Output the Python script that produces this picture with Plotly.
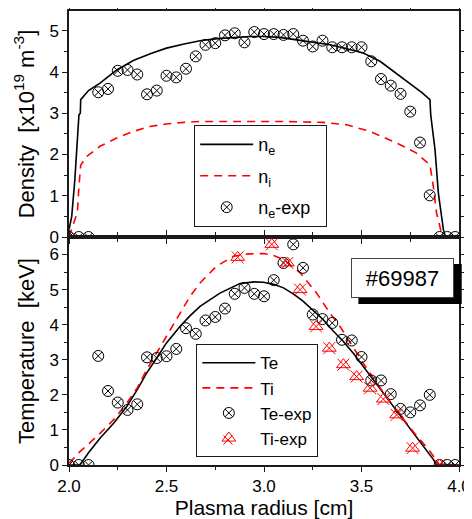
import plotly.graph_objects as go
from plotly.subplots import make_subplots

# ---------------- data ----------------
# measured points, common radius grid
r_exp = [2.00, 2.05, 2.10, 2.15, 2.20, 2.25, 2.30, 2.35, 2.40, 2.45, 2.50, 2.55, 2.60,
         2.65, 2.70, 2.75, 2.80, 2.85, 2.90, 2.95, 3.00, 3.05, 3.10, 3.15, 3.20, 3.25,
         3.30, 3.35, 3.40, 3.45, 3.50, 3.55, 3.60, 3.65, 3.70, 3.75, 3.80, 3.85,
         3.90, 3.94, 3.98]
ne_exp = [0, 0, 0, 3.51, 3.59, 4.03, 4.05, 3.94, 3.46, 3.55, 3.91, 3.87, 4.08,
          4.38, 4.66, 4.70, 4.89, 4.94, 4.72, 4.97, 4.92, 4.92, 4.90, 4.92, 4.76, 4.62,
          4.76, 4.60, 4.60, 4.60, 4.60, 4.26, 3.83, 3.67, 3.47, 3.04, 2.29, 1.01,
          0, 0, 0]
te_exp = [0, 0, 0, 3.11, 2.11, 1.78, 1.57, 1.73, 3.07, 3.05, 3.10, 3.31, 3.90,
          3.74, 4.12, 4.22, 4.46, 4.88, 5.05, 4.88, 4.81, 5.27, 5.76, 6.29, 5.62, 4.29,
          4.16, 4.05, 3.57, 3.55, 3.08, 2.41, 2.41, 2.02, 1.60, 1.50, 1.70, 2.00,
          0, 0, 0]
r_ti_exp = [2.865, 3.04, 3.12, 3.185, 3.267, 3.335, 3.407, 3.475, 3.544, 3.612, 3.68, 3.762, 3.90]
ti_exp = [5.92, 6.29, 5.76, 5.00, 3.95, 3.33, 2.86, 2.52, 2.19, 1.88, 1.43, 0.48, 0]

# model profiles
r_ne = [2.0, 2.014, 2.03, 2.043, 2.051, 2.058, 2.06, 2.10, 2.159, 2.245, 2.33, 2.42, 2.50,
        2.59, 2.672, 2.76, 2.84, 2.93, 3.0, 3.08, 3.168, 3.25, 3.338, 3.42, 3.509,
        3.595, 3.64, 3.68, 3.72, 3.766, 3.81, 3.851, 3.855, 3.877, 3.894, 3.92, 3.93, 4.0]
ne = [0.18, 0.5, 1.39, 2.36, 2.96, 3.0, 3.33, 3.55, 3.73, 4.05, 4.28, 4.45, 4.58,
      4.68, 4.76, 4.81, 4.84, 4.86, 4.86, 4.84, 4.78, 4.73, 4.66, 4.57, 4.46,
      4.26, 4.10, 3.95, 3.82, 3.66, 3.50, 3.33, 2.96, 2.12, 1.07, 0.18, 0, 0]
r_ni = [2.0, 2.014, 2.043, 2.051, 2.06, 2.09, 2.159, 2.245, 2.33, 2.415, 2.5, 2.59,
        2.672, 2.9, 3.1, 3.30, 3.424, 3.544, 3.68, 3.78, 3.851, 3.868, 3.885, 3.91, 3.92, 4.0]
ni = [0, 0.18, 0.6, 1.23, 1.74, 1.95, 2.2, 2.4, 2.56, 2.68, 2.74, 2.78,
      2.8, 2.8, 2.8, 2.78, 2.72, 2.56, 2.28, 2.04, 1.75, 1.23, 0.58, 0.1, 0, 0]
r_te = [2.0, 2.056, 2.10, 2.159, 2.23, 2.296, 2.35, 2.398, 2.45, 2.50, 2.569, 2.62, 2.672,
        2.774, 2.877, 2.95, 2.997, 3.05, 3.10, 3.15, 3.20, 3.25, 3.304, 3.35, 3.407,
        3.46, 3.509, 3.56, 3.612, 3.66, 3.714, 3.77, 3.817, 3.868, 3.885, 4.0]
te = [0, 0, 0.35, 0.76, 1.2, 1.67, 2.15, 2.62, 3.05, 3.48, 3.95, 4.25, 4.52,
      4.9, 5.17, 5.22, 5.21, 5.15, 5.05, 4.88, 4.67, 4.42, 4.14, 3.85, 3.52,
      3.17, 2.81, 2.43, 2.05, 1.68, 1.29, 0.88, 0.52, 0.16, 0, 0]
r_ti = [2.0, 2.056, 2.10, 2.159, 2.23, 2.296, 2.35, 2.398, 2.45, 2.50, 2.569, 2.62, 2.672,
        2.72, 2.757, 2.843, 2.92, 3.0, 3.05, 3.10, 3.185, 3.27, 3.338, 3.39, 3.44,
        3.509, 3.595, 3.68, 3.78, 3.85, 3.90, 4.0]
ti = [0.05, 0.38, 0.6, 0.9, 1.3, 1.76, 2.2, 2.71, 3.2, 3.67, 4.33, 4.8, 5.19,
      5.47, 5.67, 5.95, 6.02, 6.03, 5.97, 5.86, 5.48, 4.9, 4.33, 3.95, 3.5,
      2.9, 2.2, 1.55, 0.85, 0.4, 0, 0]

shot_label = "#69987"

# ---------------- figure ----------------
FONT = "Liberation Sans, Arial, sans-serif"
RED = "#FF0000"
DASH = "8px,6px"
AX = "#1a1a1a"

fig = make_subplots(rows=2, cols=1, shared_xaxes=True, vertical_spacing=0,
                    row_heights=[226, 228])

fig.add_trace(go.Scatter(x=r_ne, y=ne, mode="lines", name="n<sub>e</sub>",
                         line=dict(color="black", width=1.6), legend="legend",
                         legendgroup="a"), row=1, col=1)
fig.add_trace(go.Scatter(x=r_ni, y=ni, mode="lines", name="n<sub>i</sub>",
                         line=dict(color=RED, width=1.6, dash=DASH), legend="legend",
                         legendgroup="b"), row=1, col=1)
fig.add_trace(go.Scatter(x=r_exp, y=ne_exp, mode="markers",
                         name="n<sub>e</sub>-exp&nbsp;&nbsp;",
                         marker=dict(symbol="circle-x-open", size=11, color="black",
                                     line=dict(width=1)), legend="legend",
                         legendgroup="c"), row=1, col=1)

fig.add_trace(go.Scatter(x=r_te, y=te, mode="lines", name="Te",
                         line=dict(color="black", width=1.6), legend="legend2"), row=2, col=1)
fig.add_trace(go.Scatter(x=r_ti, y=ti, mode="lines", name="Ti",
                         line=dict(color=RED, width=1.6, dash=DASH), legend="legend2"), row=2, col=1)
fig.add_trace(go.Scatter(x=r_exp, y=te_exp, mode="markers", name="Te-exp",
                         marker=dict(symbol="circle-x-open", size=11, color="black",
                                     line=dict(width=1)), legend="legend2"), row=2, col=1)
fig.add_trace(go.Scatter(x=r_ti_exp, y=ti_exp, mode="markers", name="Ti-exp",
                         marker=dict(symbol="triangle-up-open", size=12, color=RED,
                                     line=dict(width=1)), legend="legend2"), row=2, col=1)
fig.add_trace(go.Scatter(x=r_ti_exp, y=ti_exp, mode="markers", name="Ti-exp",
                         marker=dict(symbol="x-thin-open", size=12, color=RED,
                                     line=dict(width=1)), showlegend=False,
                         legend="legend2"), row=2, col=1)

axis_common = dict(showline=True, linecolor=AX, linewidth=1.5, mirror="ticks",
                   ticks="outside", ticklen=5, tickwidth=1.2, tickcolor=AX,
                   showgrid=False, zeroline=False, automargin=False,
                   tickfont=dict(size=17, family=FONT, color="black"))

fig.update_xaxes(range=[2.0, 4.0], dtick=0.5, tick0=2.0, tickformat=".1f",
                 minor=dict(dtick=0.25, ticklen=3, ticks="outside", tickcolor=AX),
                 **axis_common)
fig.update_xaxes(showticklabels=False, row=1, col=1)
fig.update_xaxes(title=dict(text="Plasma radius [cm]", font=dict(size=21, family=FONT),
                            standoff=12), row=2, col=1)

fig.update_yaxes(dtick=1, tick0=0,
                 minor=dict(dtick=0.5, ticklen=3, ticks="outside", tickcolor=AX),
                 **axis_common)
fig.update_yaxes(range=[0, 5.48], row=1, col=1,
                 title=dict(text="Density  [x10<sup>19</sup> m<sup>-3</sup>]",
                            font=dict(size=22, family=FONT), standoff=9))
fig.update_yaxes(range=[0, 6.5], row=2, col=1,
                 title=dict(text="Temperature  [keV]",
                            font=dict(size=22, family=FONT), standoff=9))

leg_common = dict(bgcolor="rgba(255,255,255,0)", bordercolor=AX, borderwidth=1.2,
                  xanchor="left", itemwidth=53)

# X overlay for the Ti-exp legend symbol (legend2 is bottom-anchored)
lx, ly, dx, dy = 0.4077, 0.055, 0.0115, 0.0099

# the page body adds an 8px offset, so the figure is 8px smaller than the window
fig.update_layout(
    width=464, height=511,
    margin=dict(l=61, r=13, t=3, b=54),
    paper_bgcolor="white", plot_bgcolor="white",
    font=dict(family=FONT, color="black"),
    legend=dict(x=0.3205, y=0.749, yanchor="top", tracegroupgap=5,
                font=dict(size=18, family=FONT, color="black"), **leg_common),
    legend2=dict(x=0.326, y=0.0176, yanchor="bottom", tracegroupgap=0,
                 font=dict(size=17, family=FONT, color="black"), **leg_common),
    shapes=[
        dict(type="rect", xref="paper", yref="paper",
             x0=0.742, x1=1.007, y0=0.3546, y1=0.4427,
             fillcolor="black", line=dict(width=0)),
        dict(type="line", xref="paper", yref="paper", layer="above",
             x0=lx - dx, x1=lx + dx, y0=ly - dy, y1=ly + dy, line=dict(color=RED, width=1)),
        dict(type="line", xref="paper", yref="paper", layer="above",
             x0=lx - dx, x1=lx + dx, y0=ly + dy, y1=ly - dy, line=dict(color=RED, width=1)),
    ],
    annotations=[dict(text=shot_label, xref="paper", yref="paper",
                      x=0.855, y=0.412, xanchor="center", yanchor="middle",
                      showarrow=False, font=dict(size=22, family=FONT, color="black"),
                      bgcolor="white", bordercolor="#444", borderwidth=1,
                      width=101, height=38, borderpad=0)],
)

fig.write_html("out.html")
